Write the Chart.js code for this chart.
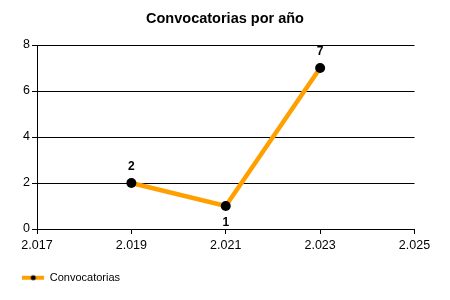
<!DOCTYPE html>
<html>
<head>
<meta charset="utf-8">
<script src="https://cdn.jsdelivr.net/npm/chart.js@4"></script>
<style>
html,body{margin:0;padding:0;background:#fff;}
#wrap{width:450px;height:300px;position:relative;}
</style>
</head>
<body>
<div id="wrap"><canvas id="c"></canvas></div>
<script>
const years = [2019, 2021, 2023];
const convocatorias = [2, 1, 7];
const labelSide = ['top', 'bottom', 'top'];
const xTickValues = [2017, 2019, 2021, 2023, 2025];
const xTickLabels = ['2.017', '2.019', '2.021', '2.023', '2.025'];
const yTickLabels = ['0', '2', '4', '6', '8'];

const FONT = "'Liberation Sans', Arial, sans-serif";
const ORANGE = '#FFA000';

// legend symbol: orange line with black dot
const sym = document.createElement('canvas');
sym.width = 22; sym.height = 8;
(function(){
  const g = sym.getContext('2d');
  g.fillStyle = ORANGE;
  g.fillRect(0, 2, 22, 4);
  g.fillStyle = '#000';
  g.beginPath(); g.arc(11, 4, 2.5, 0, Math.PI * 2); g.fill();
})();

const dataLabels = {
  id: 'dataLabels',
  afterDatasetsDraw(chart) {
    const ctx = chart.ctx;
    const meta = chart.getDatasetMeta(0);
    ctx.save();
    ctx.font = "bold 12px " + FONT;
    ctx.fillStyle = '#000';
    ctx.textAlign = 'center';
    ctx.textBaseline = 'middle';
    meta.data.forEach((pt, i) => {
      const dy = labelSide[i] === 'top' ? -16 : 17;
      ctx.fillText(String(convocatorias[i]), pt.x, pt.y + dy);
    });
    ctx.restore();
  }
};

new Chart(document.getElementById('c'), {
  type: 'line',
  data: {
    datasets: [{
      label: 'Convocatorias',
      data: years.map((y, i) => ({ x: y, y: convocatorias[i] })),
      borderColor: ORANGE,
      backgroundColor: ORANGE,
      borderWidth: 4.5,
      pointStyle: 'circle',
      pointRadius: 5,
      pointHoverRadius: 5,
      pointBackgroundColor: '#000',
      pointBorderColor: '#000',
      pointBorderWidth: 0,
      tension: 0,
      fill: false
    }]
  },
  options: {
    responsive: true,
    maintainAspectRatio: false,
    animation: false,
    events: [],
    layout: { padding: { left: 0, right: 0, top: 0, bottom: 6.75 } },
    scales: {
      x: {
        type: 'linear',
        min: 2017, max: 2025,
        afterBuildTicks(scale) { scale.ticks = xTickValues.map(v => ({ value: v })); },
        afterFit(scale) { scale.height = 21; scale.paddingRight = 35.5; },
        ticks: {
          color: '#000',
          font: { family: FONT, size: 12.5 },
          padding: 4,
          maxRotation: 0,
          callback(v) { const i = xTickValues.indexOf(v); return i >= 0 ? xTickLabels[i] : ''; }
        },
        grid: { drawOnChartArea: false, drawTicks: true, tickLength: 5, color: '#000', lineWidth: 1 },
        border: { color: '#000', width: 1 }
      },
      y: {
        min: 0, max: 8,
        afterFit(scale) { scale.width = 37; },
        ticks: {
          stepSize: 2,
          color: '#000',
          font: { family: FONT, size: 12.5 },
          padding: 2,
          callback(v) { return yTickLabels[v / 2]; }
        },
        grid: { color: '#000', lineWidth: 1, tickLength: 5 },
        border: { color: '#000', width: 1 }
      }
    },
    plugins: {
      title: {
        display: true,
        text: 'Convocatorias por año',
        color: '#000',
        font: { family: FONT, size: 14.5, weight: 'bold' },
        padding: { top: 10, bottom: 17.6 }
      },
      legend: {
        display: true,
        position: 'bottom',
        align: 'start',
        labels: {
          color: '#000',
          font: { family: FONT, size: 11 },
          usePointStyle: true,
          pointStyleWidth: 22,
          boxHeight: 11,
          padding: 22.25,
          generateLabels(chart) {
            return [{ text: 'Convocatorias', pointStyle: sym, fillStyle: ORANGE, strokeStyle: ORANGE, lineWidth: 0, datasetIndex: 0, hidden: false }];
          }
        }
      },
      tooltip: { enabled: false }
    }
  },
  plugins: [dataLabels]
});
</script>
</body>
</html>
